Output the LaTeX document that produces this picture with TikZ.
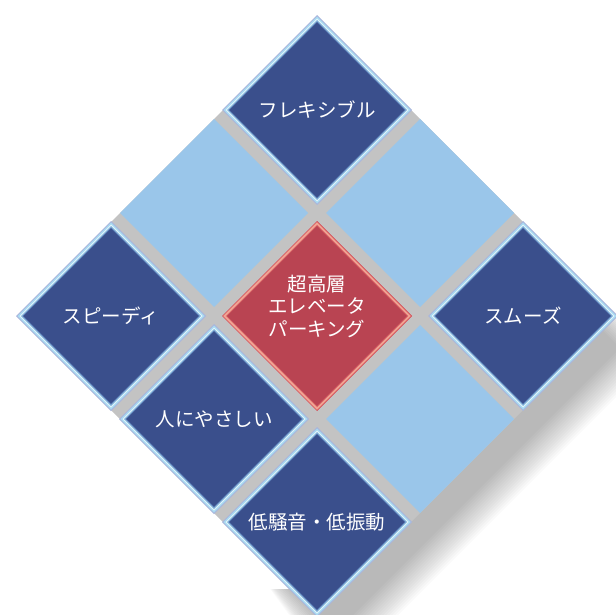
\documentclass[tikz,border=0pt]{standalone}
\usepackage{fontspec}
\newfontfamily\jpfont{Noto Sans CJK JP}
\definecolor{tilefill}{HTML}{3A4F8C}
\definecolor{tileedgeA}{HTML}{A9B6DD}
\definecolor{tileedgeB}{HTML}{A8DAF1}
\definecolor{tileedgeC}{HTML}{E4F5FB}
\definecolor{tileedgeD}{HTML}{86B6DC}
\definecolor{tileedgeE}{HTML}{5777B0}
\definecolor{redfill}{HTML}{B94452}
\definecolor{redA}{HTML}{D6444F}
\definecolor{redB}{HTML}{F0A493}
\definecolor{redC}{HTML}{D65A60}
\definecolor{lightcell}{HTML}{9AC6EA}
\definecolor{bggray}{HTML}{C3C3C3}
\newcommand\dmd[3]{(#1,#2-#3) -- (#1+#3,#2) -- (#1,#2+#3) -- (#1-#3,#2) -- cycle}
\newcommand\bluetile[4]{%
  \fill[tileedgeA] \dmd{#1}{#2}{95};
  \fill[tileedgeB] \dmd{#1}{#2}{93.5};
  \fill[tileedgeC] \dmd{#1}{#2}{91.5};
  \fill[tileedgeD] \dmd{#1}{#2}{90};
  \fill[tileedgeE] \dmd{#1}{#2}{88.5};
  \fill[tilefill] \dmd{#1}{#2}{87.3};
  \node[tilelabel] (#3) at (#1,#2) {#4};
}
\tikzset{
  tilelabel/.style={text=white, inner sep=0pt, font=\jpfont\fontsize{19.5}{22.5}\selectfont, align=center}
}
\begin{document}
\begin{tikzpicture}[x=1pt,y=-1pt]
\useasboundingbox (0,0) rectangle (616,615);
% soft drop shadow
\foreach \k in {0,...,15} {
  \fill[black, fill opacity=0.02] \dmd{335}{348}{285+3*\k};
}
% white patches as in the reference
\fill[white] (0,409) rectangle (202,499);
\fill[white] (0,499) rectangle (295,589);
% gray base
\fill[bggray] \dmd{317}{316}{300};
% light cells
\fill[lightcell] \dmd{214}{213}{94};
\fill[lightcell] \dmd{420}{213}{94};
\fill[lightcell] \dmd{420}{419}{94};
% blue tiles
\bluetile{317}{110}{flex}{フレキシブル}
\bluetile{111}{316}{speedy}{スピーディ}
\bluetile{523}{316}{smooth}{スムーズ}
\bluetile{214}{419}{human}{人にやさしい}
\bluetile{317}{522}{quiet}{低騒音・低振動}
% red centre tile
\fill[redA] \dmd{317}{316}{95};
\fill[redB] \dmd{317}{316}{93.8};
\fill[redC] \dmd{317}{316}{91};
\fill[redfill] \dmd{317}{316}{89.8};
\node[tilelabel] (centre) at (317,306) {超高層\\エレベータ\\パーキング};
\end{tikzpicture}
\end{document}
